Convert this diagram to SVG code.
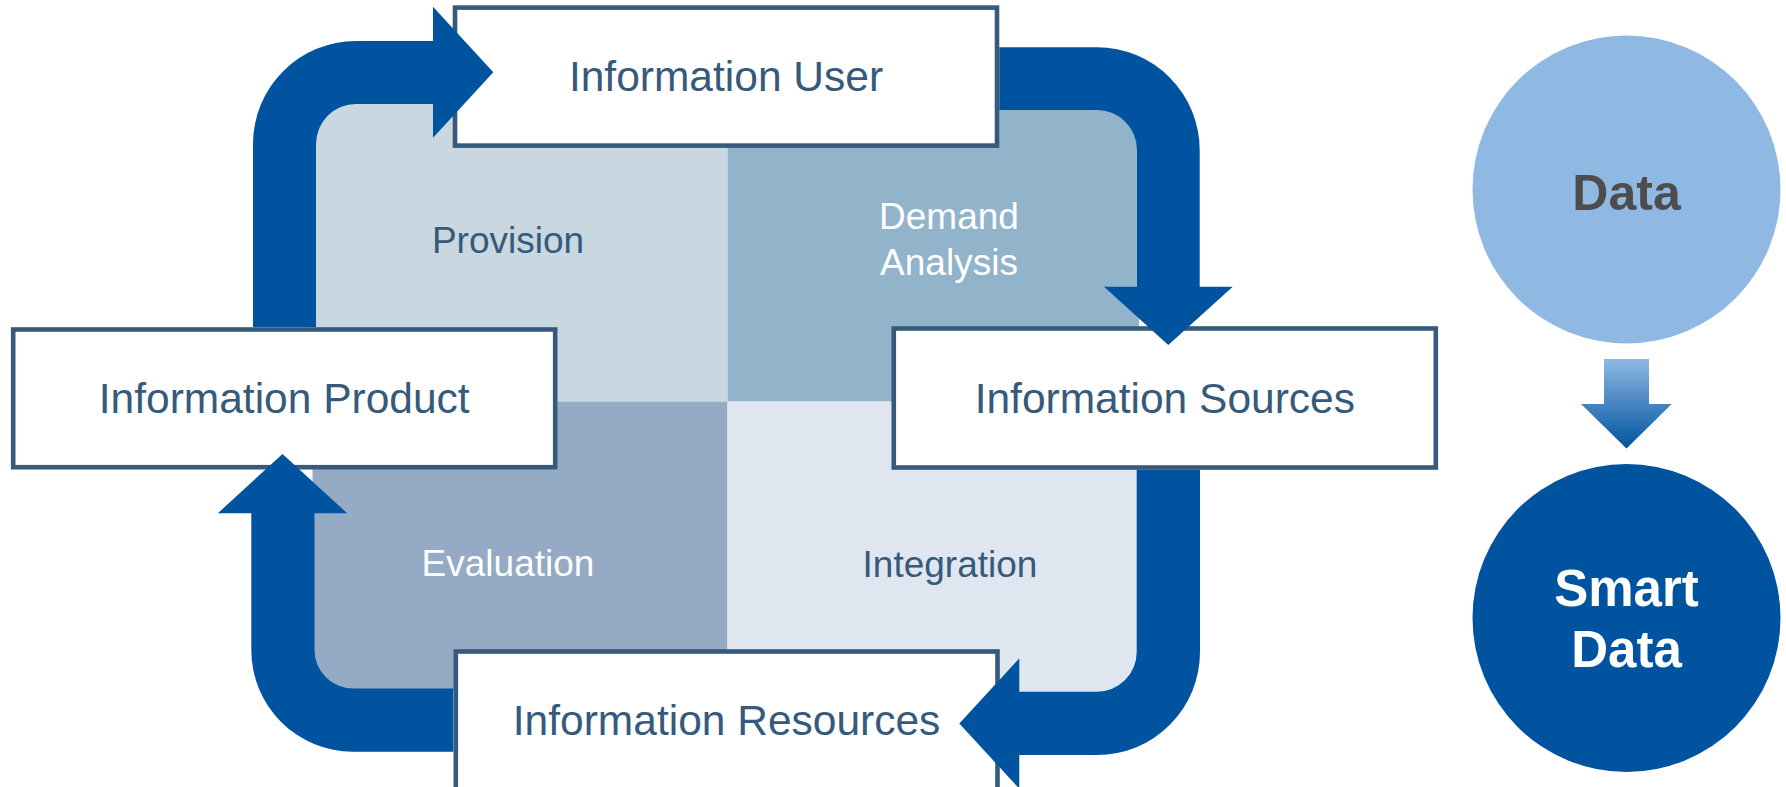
<svg xmlns="http://www.w3.org/2000/svg" width="1786" height="787" viewBox="0 0 1786 787">
  <defs>
    <style>
      .box rect { fill: #ffffff; stroke: #365a7b; stroke-width: 4.6; }
      .box text { font-family: "Liberation Sans", Arial, sans-serif; font-size: 42.5px; fill: #365a7b; text-anchor: middle; }
      .phase { font-family: "Liberation Sans", Arial, sans-serif; font-size: 37px; text-anchor: middle; }
      .dark { fill: #365a7b; }
      .light { fill: #ffffff; }
      .flow { fill: #00539f; stroke: none; }
      .bubble { font-family: "Liberation Sans", Arial, sans-serif; font-weight: bold; text-anchor: middle; }
    </style>
    <linearGradient id="stepGrad" x1="0" y1="359" x2="0" y2="448.5" gradientUnits="userSpaceOnUse">
      <stop offset="0" stop-color="#8fb8e3"/>
      <stop offset="1" stop-color="#00539f"/>
    </linearGradient>
  </defs>

  <!-- four process phases inside the cycle -->
  <g id="phases">
    <path id="provision-area" d="M 314,144 A 42,42 0 0 1 356,102 L 727.5,102 L 727.5,401.5 L 314,401.5 Z" fill="#c9d7e1"/>
    <path id="demand-area" d="M 727.5,108 L 1097,108 A 42,42 0 0 1 1139,150 L 1139,401.5 L 727.5,401.5 Z" fill="#91b4cb"/>
    <path id="evaluation-area" d="M 312.5,401.5 L 727.5,401.5 L 727.5,690.5 L 353,690.5 A 40.5,40.5 0 0 1 312.5,650 Z" fill="#95aac4"/>
    <path id="integration-area" d="M 727.5,401.5 L 1138.7,401.5 L 1138.7,652 A 41.7,41.7 0 0 1 1097,693.7 L 727.5,693.7 Z" fill="#dfe6f0"/>
    <text class="phase dark" x="508" y="253.3">Provision</text>
    <text class="phase light" x="949" y="229.3">Demand</text>
    <text class="phase light" x="949" y="275">Analysis</text>
    <text class="phase light" x="508" y="576">Evaluation</text>
    <text class="phase dark" x="950" y="576.5">Integration</text>
  </g>

  <!-- cycle nodes -->
  <g id="information-user" class="box">
    <rect x="455" y="7.6" width="542" height="138"/>
    <text x="726" y="91">Information User</text>
  </g>
  <g id="information-product" class="box">
    <rect x="13.2" y="329.5" width="542" height="137.7"/>
    <text x="284.2" y="412.7">Information Product</text>
  </g>
  <g id="information-sources" class="box">
    <rect x="893.8" y="328.5" width="542" height="139"/>
    <text x="1164.8" y="412.5">Information Sources</text>
  </g>
  <g id="information-resources" class="box">
    <rect x="455.8" y="651.5" width="541.7" height="138"/>
    <text x="726.6" y="735">Information Resources</text>
  </g>

  <!-- curved block arrows of the cycle -->
  <g id="connectors">
    <path class="flow" d="M 253,327 L 253,144 A 103,103 0 0 1 356,41 L 433,41 L 433,6.7 L 493.3,72.3 L 433,137.7 L 433,104 L 356,104 A 40,40 0 0 0 316,144 L 316,327 Z"/>
    <path class="flow" d="M 999.3,47.3 L 1097,47.3 A 102.7,102.7 0 0 1 1199.7,150 L 1199.7,286.7 L 1232.7,286.7 L 1168.3,345 L 1104,286.7 L 1137,286.7 L 1137,150 A 40,40 0 0 0 1097,110 L 999.3,110 Z"/>
    <path class="flow" d="M 1200,469.7 L 1200,652 A 103,103 0 0 1 1097,755 L 1019.3,755 L 1019.3,788.7 L 959.3,723.5 L 1019.3,658.3 L 1019.3,691.7 L 1097,691.7 A 39.7,39.7 0 0 0 1136.7,652 L 1136.7,469.7 Z"/>
    <path class="flow" d="M 453.3,751.7 L 353,751.7 A 101.7,101.7 0 0 1 251.3,650 L 251.3,513.3 L 217.8,513.3 L 282.5,454 L 347.2,513.3 L 314.5,513.3 L 314.5,650 A 38.5,38.5 0 0 0 353,688.5 L 453.3,688.5 Z"/>
  </g>

  <!-- data refinement on the right -->
  <g id="data">
    <circle cx="1626.5" cy="189.5" r="154" fill="#8fb8e3"/>
    <text class="bubble" x="1626.5" y="210" font-size="50" fill="#4d4d4d">Data</text>
  </g>
  <g id="smart-data">
    <circle cx="1626.5" cy="618" r="154" fill="#00539f"/>
    <text class="bubble" x="1626.5" y="606" font-size="51" fill="#ffffff">Smart</text>
    <text class="bubble" x="1626.5" y="667" font-size="51" fill="#ffffff">Data</text>
  </g>
  <g id="refinement-arrow">
    <path d="M 1604,359 L 1649,359 L 1649,404 L 1671.7,404 L 1626.5,448.5 L 1581,404 L 1604,404 Z" fill="url(#stepGrad)"/>
  </g>
</svg>
